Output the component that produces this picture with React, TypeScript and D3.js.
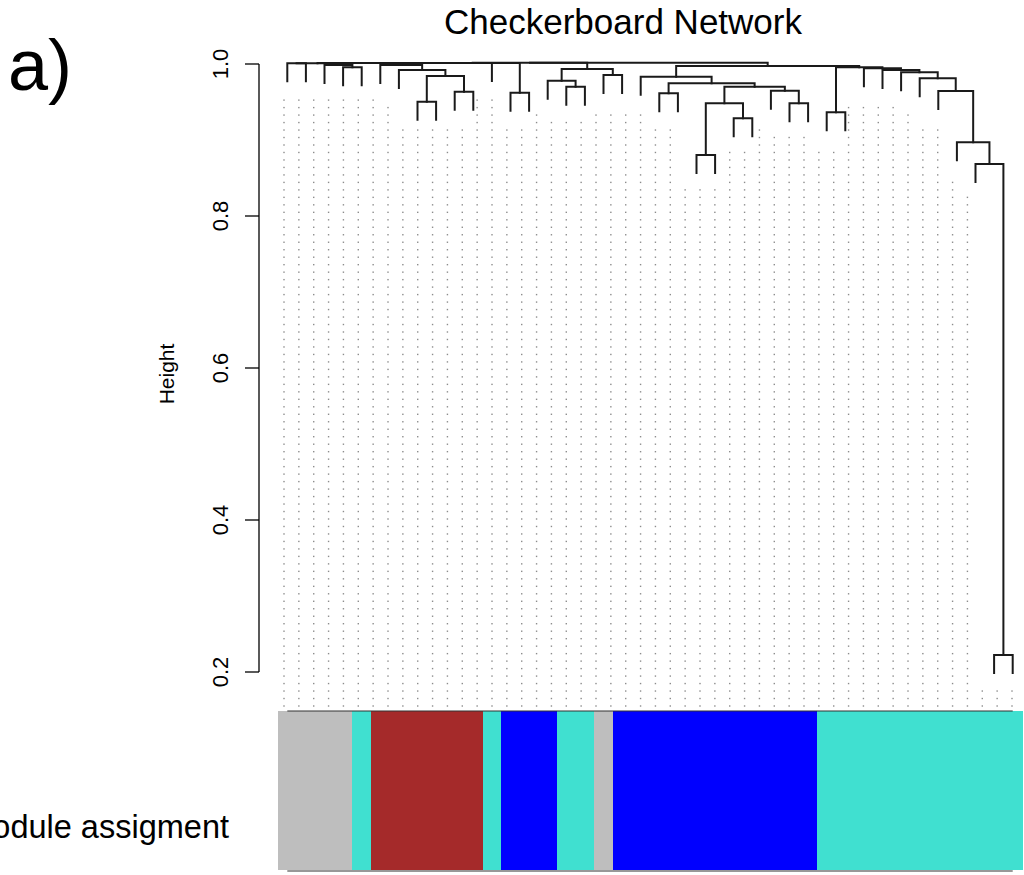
import React, { useEffect, useRef } from 'react';
import * as d3 from 'd3';

// module colour of each leaf, left to right
const leafColors = [
  'grey', 'grey', 'grey', 'grey', 'turquoise',
  'brown', 'brown', 'brown', 'brown', 'brown', 'brown', 'turquoise',
  'blue', 'blue', 'blue', 'turquoise', 'turquoise', 'grey',
  'blue', 'blue', 'blue', 'blue', 'blue', 'blue', 'blue', 'blue', 'blue', 'blue', 'blue',
  'turquoise', 'turquoise', 'turquoise', 'turquoise', 'turquoise', 'turquoise',
  'turquoise', 'turquoise', 'turquoise', 'turquoise', 'turquoise',
];

const colorMap: Record<string, string> = {
  grey: '#bebebe',
  turquoise: '#40e0d0',
  brown: '#a52a2a',
  blue: '#0000ff',
};

// hclust-style merge table: negative = leaf (1-based), positive = earlier merge (1-based), then height
const merges: [number, number, number][] = [
  [-4, -5, 0.9957],
  [-3, 1, 0.9987],
  [-8, -9, 0.9504],
  [-10, -11, 0.9636],
  [3, 4, 0.9842],
  [-7, 5, 0.9921],
  [-6, 6, 0.9987],
  [-13, -14, 0.9622],
  [-16, -17, 0.9701],
  [-15, 9, 0.978],
  [-18, -19, 0.9855],
  [10, 11, 0.9934],
  [-21, -22, 0.9614],
  [-23, -24, 0.8803],
  [-25, -26, 0.9286],
  [14, 15, 0.9483],
  [-28, -29, 0.9483],
  [-27, 17, 0.9649],
  [16, 18, 0.9701],
  [13, 19, 0.9746],
  [-20, 20, 0.9833],
  [-30, -31, 0.9364],
  [-39, -40, 0.2224],
  [-38, 23, 0.8684],
  [-37, 24, 0.897],
  [-36, 25, 0.9645],
  [-35, 26, 0.9812],
  [-34, 27, 0.9891],
  [-33, 28, 0.9921],
  [-32, 29, 0.9943],
  [22, 30, 0.9957],
  [21, 31, 0.9974],
  [-1, -2, 1.001],
  [33, 2, 1.0011],
  [34, 7, 1.0012],
  [35, -12, 1.0013],
  [36, 8, 1.0014],
  [37, 12, 1.0015],
  [38, 32, 1.0016],
];

// tops of the dotted guide columns (height units)
const guideTops = [
  0.953, 0.953, 0.953, 0.953, 0.953, 0.953, 0.953, 0.943, 0.913, 0.913,
  0.913, 0.913, 0.913, 0.953, 0.953, 0.913, 0.913, 0.933, 0.923, 0.923,
  0.923, 0.933, 0.933, 0.933, 0.933, 0.913, 0.913, 0.835, 0.835, 0.835,
  0.884, 0.884, 0.913, 0.903, 0.903, 0.903, 0.884, 0.884, 0.943, 0.943,
  0.943, 0.943, 0.933, 0.913, 0.913, 0.844, 0.825, 0.175, 0.175, 0.175,
];

const yTicks = [0.2, 0.4, 0.6, 0.8, 1.0];
const hang = 0.0237;

const App = () => {
  const ref = useRef<SVGSVGElement>(null);

  useEffect(() => {
    const svg = d3.select(ref.current);
    svg.selectAll('*').remove();

    const font = 'Liberation Sans, Arial, Helvetica, sans-serif';
    const n = leafColors.length;

    const xBand = d3.scaleBand<number>().domain(d3.range(n)).range([278, 1022]).padding(0);
    const leafX = (i: number) => (xBand(i) as number) + xBand.bandwidth() / 2;
    const y = d3.scaleLinear().domain([0.2, 1.0]).range([672, 64]);
    const xGuide = d3.scalePoint<number>().domain(d3.range(guideTops.length)).range([284, 1012]);

    // dotted guide columns
    const guideBottom = 706;
    const step = 7.48;
    const dots = svg.append('g').attr('fill', '#8c8c8c');
    guideTops.forEach((h, i) => {
      const top = y(h) - 1.5;
      for (let yy = guideBottom; yy >= top; yy -= step) {
        dots.append('rect')
          .attr('x', (xGuide(i) as number) - 0.7)
          .attr('y', yy - 0.7)
          .attr('width', 1.4)
          .attr('height', 1.4);
      }
    });

    // dendrogram
    const tree = svg.append('g')
      .attr('stroke', '#1a1a1a')
      .attr('stroke-width', 2)
      .attr('fill', 'none')
      .attr('stroke-linecap', 'square');
    const nodes: { x: number; h: number }[] = [];
    const getNode = (r: number) =>
      r < 0 ? { x: leafX(-r - 1), h: NaN, leaf: true } : { ...nodes[r - 1], leaf: false };

    merges.forEach(([a, b, h]) => {
      const A = getNode(a);
      const B = getNode(b);
      const path = d3.path();
      [A, B].forEach(c => {
        const bottom = c.leaf ? h - hang : c.h;
        path.moveTo(c.x, y(bottom));
        path.lineTo(c.x, y(h));
      });
      path.moveTo(A.x, y(h));
      path.lineTo(B.x, y(h));
      tree.append('path').attr('d', path.toString());
      nodes.push({ x: (A.x + B.x) / 2, h });
    });

    // y axis
    const axis = svg.append('g').attr('stroke', '#000').attr('stroke-width', 1.3);
    axis.append('line')
      .attr('x1', 259).attr('x2', 259)
      .attr('y1', y(yTicks[0])).attr('y2', y(yTicks[yTicks.length - 1]));
    axis.selectAll('.tick')
      .data(yTicks)
      .enter()
      .append('line')
      .attr('x1', 245).attr('x2', 259)
      .attr('y1', d => y(d)).attr('y2', d => y(d));
    svg.append('g')
      .selectAll('text')
      .data(yTicks)
      .enter()
      .append('text')
      .attr('transform', d => `translate(228,${y(d)}) rotate(-90)`)
      .attr('text-anchor', 'middle')
      .style('font-family', font)
      .style('font-size', '22px')
      .text(d => d.toFixed(1));

    svg.append('text')
      .attr('transform', 'translate(174,374) rotate(-90)')
      .attr('text-anchor', 'middle')
      .style('font-family', font)
      .style('font-size', '21px')
      .text('Height');

    svg.append('text')
      .attr('x', 623)
      .attr('y', 34)
      .attr('text-anchor', 'middle')
      .style('font-family', font)
      .style('font-size', '35px')
      .text('Checkerboard Network');

    svg.append('text')
      .attr('x', 8)
      .attr('y', 90)
      .style('font-family', font)
      .style('font-size', '72px')
      .text('a)');

    // module colour bar
    svg.append('g')
      .attr('shape-rendering', 'crispEdges')
      .selectAll('rect')
      .data(leafColors)
      .enter()
      .append('rect')
      .attr('x', (d, i) => xBand(i) as number)
      .attr('y', 711)
      .attr('width', xBand.bandwidth() + 1)
      .attr('height', 159)
      .attr('fill', d => colorMap[d]);

    [711, 871].forEach(yy => {
      svg.append('line')
        .attr('x1', leafX(0)).attr('x2', leafX(n - 1))
        .attr('y1', yy).attr('y2', yy)
        .attr('stroke', '#333')
        .attr('stroke-width', 1.2);
    });

    svg.append('text')
      .attr('x', 229)
      .attr('y', 838)
      .attr('text-anchor', 'end')
      .style('font-family', font)
      .style('font-size', '32.5px')
      .text('Module assigment');
  }, []);

  return (
    <svg
      ref={ref}
      width={1024}
      height={875}
      style={{ position: 'absolute', left: 0, top: 0, background: '#fff' }}
    />
  );
};

export default App;
